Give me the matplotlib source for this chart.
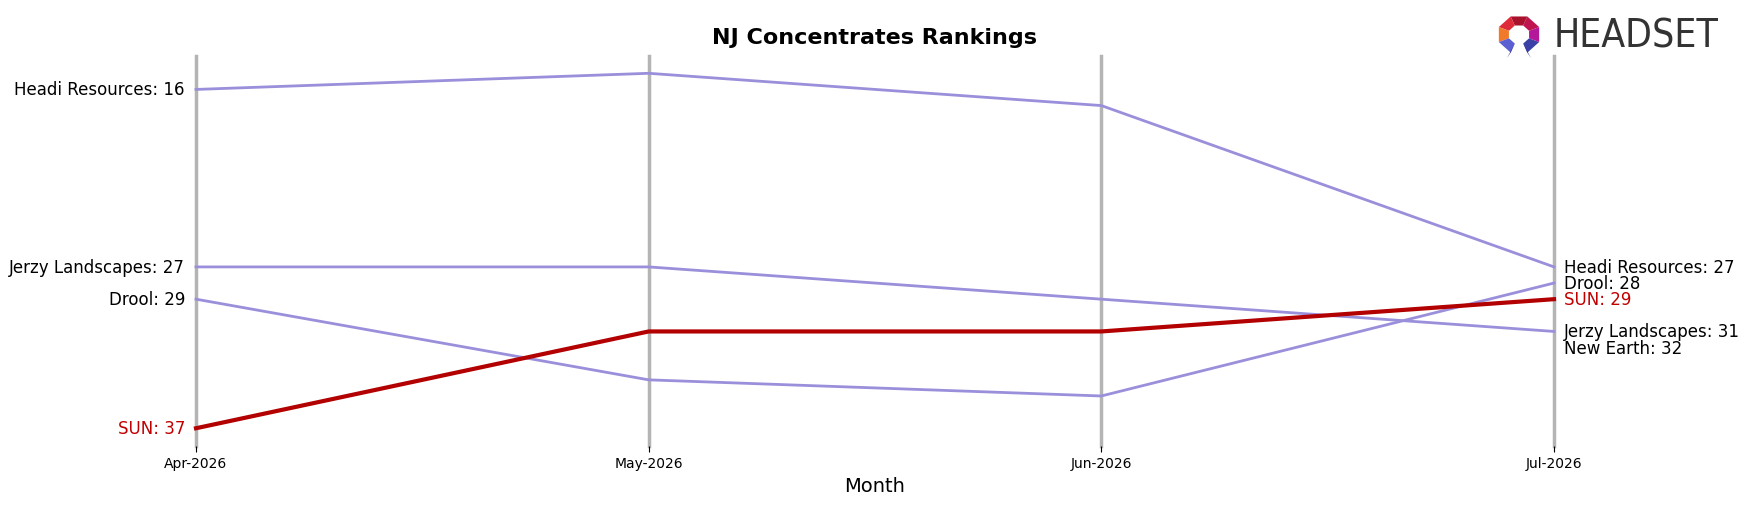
import numpy as np
import matplotlib
matplotlib.use("Agg")
from matplotlib import pyplot as plt
from matplotlib.patches import Polygon

months = ["Apr-2026", "May-2026", "Jun-2026", "Jul-2026"]

brands = ["Headi Resources", "Jerzy Landscapes", "Drool", "New Earth", "SUN"]
headi = [16, 15, 17, 27]
jerzy = [27, 27, 29, 31]
drool = [29, 34, 35, 28]
new_earth = [np.nan, np.nan, np.nan, 32]
sun = [37, 31, 31, 29]
ranks = [headi, jerzy, drool, new_earth, sun]
highlight = "SUN"

purple = "#9a8fdb"
red = "#b30000"
label_red = "#c00000"

fig = plt.figure(figsize=(17.5, 5.06), dpi=100)
ax = fig.add_axes([0.112, 0.1166, 0.776, 0.771])

x = np.arange(len(months))
for xi in x:
    ax.axvline(xi, color="#b4b4b4", lw=2.5, zorder=1, clip_on=False)

for name, r in zip(brands, ranks):
    r = np.array(r, dtype=float)
    is_hl = name == highlight
    ax.plot(x, r, color=red if is_hl else purple, lw=3 if is_hl else 2,
            zorder=3 if is_hl else 2, clip_on=False)
    tc = label_red if is_hl else "black"
    if not np.isnan(r[0]):
        ax.annotate(f"{name}: {int(r[0])}", (x[0], r[0]), xytext=(-8, 0), textcoords="offset points",
                    ha="right", va="center", fontsize=12, color=tc)
    if not np.isnan(r[-1]):
        ax.annotate(f"{name}: {int(r[-1])}", (x[-1], r[-1]), xytext=(7, 0), textcoords="offset points",
                    ha="left", va="center", fontsize=12, color=tc)

ax.set_xlim(x[0], x[-1])
ax.set_ylim(38.1, 13.92)
ax.set_xticks(x)
ax.set_xticklabels(months, fontsize=10)
ax.set_yticks([])
ax.tick_params(axis="x", length=4)
for s in ax.spines.values():
    s.set_visible(False)
ax.set_xlabel("Month", fontsize=14)
ax.set_title("NJ Concentrates Rankings", fontsize=16, fontweight="bold", pad=9.5)

# logo
fig.text(0.888, 0.927, "HEADSET", fontsize=28, color="#333333", ha="left", va="center",
         fontstretch="condensed")
lax = fig.add_axes([1495 / 1750, 1 - 60 / 506, 48 / 1750, 45 / 506])
lax.set_xlim(-1.1, 1.1)
lax.set_ylim(-1.25, 1.05)
lax.axis("off")
angles = np.deg2rad(np.arange(-67.5, 248, 45))
seg_cols = ["#3b40a6", "#b3179a", "#c0164f", "#a8122c", "#de2a3a", "#f07a2a", "#5b5fd2"]
R, r0 = 1.0, 0.5
for i in range(7):
    a0, a1 = angles[i], angles[i + 1]
    lax.add_patch(Polygon([(R * np.cos(a0), R * np.sin(a0)), (R * np.cos(a1), R * np.sin(a1)),
                           (r0 * np.cos(a1), r0 * np.sin(a1)), (r0 * np.cos(a0), r0 * np.sin(a0))],
                          closed=True, color=seg_cols[i], lw=0))
for sgn, col in [(1, "#2c2f8c"), (-1, "#2c2f8c")]:
    a0 = angles[0] if sgn == 1 else angles[-1]
    lax.add_patch(Polygon([(R * np.cos(a0), R * np.sin(a0)), (r0 * np.cos(a0), r0 * np.sin(a0)),
                           (sgn * 0.55, -1.2)], closed=True, color=col, lw=0))

fig.savefig("out.png", dpi=100)
